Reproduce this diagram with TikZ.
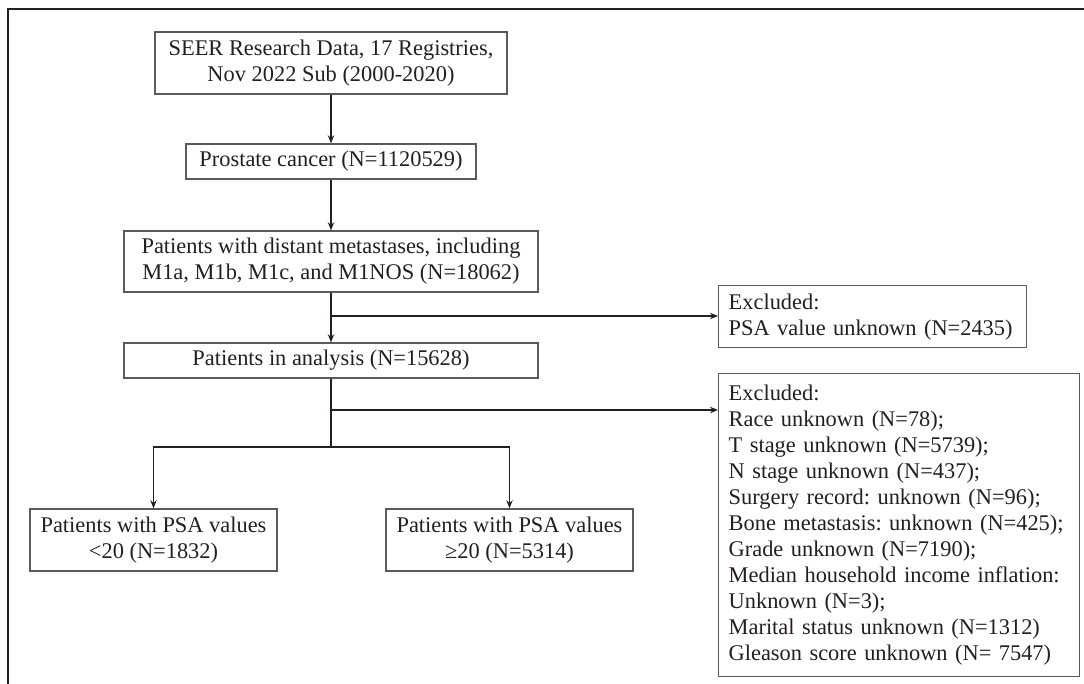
\documentclass[tikz,border=0pt]{standalone}
\usepackage{fontspec}
\setmainfont{Liberation Serif}
\usepackage{tikz}
\usetikzlibrary{arrows.meta,positioning}

\definecolor{ink}{HTML}{231F20}
\definecolor{edge}{HTML}{5A5A5A}
\frenchspacing

\begin{document}
\begin{tikzpicture}[x=0.5pt, y=-0.5pt, >={Stealth[length=4pt,width=3.2pt]},
	font=\fontsize{11.2}{13}\selectfont, text=ink,
	box/.style={draw=edge, line width=0.7pt, align=center, inner sep=0pt, minimum height=31pt},
	exclbox/.style={draw=edge, line width=0.7pt, align=left, inner xsep=5pt, inner ysep=0pt, anchor=north west},
	line/.style={draw=ink, line width=0.6pt}]
	\useasboundingbox (0,0) rectangle (1084,684);
	% Frame
	\draw [ink, line width=1pt] (8,684) -- (8,9) -- (1084,9);
	
	% Nodes {seer, pca, meta, anal, etc}
	\node [box, minimum width=176pt]  (seer) at (331,63)    {SEER Research Data, 17 Registries,\\Nov 2022 Sub (2000-2020)};
	\node [box, minimum width=145pt, minimum height=17.5pt] (pca) at (331,161.5) {Prostate cancer (N=1120529)};
	\node [box, minimum width=207pt, minimum height=30.5pt] (meta) at (331,261.5) {Patients with distant metastases, including\\M1a, M1b, M1c, and M1NOS (N=18062)};
	\node [box, minimum width=207pt, minimum height=17.5pt] (anal) at (331,360.5) {Patients in analysis (N=15628)};
	\node [exclbox, text width=144pt, minimum height=31pt] (excl1) at (718,285) {Excluded:\\PSA value unknown (N=2435)};
	\node [exclbox, text width=170.5pt, minimum height=151.5pt] (excl2) at (718,373) {Excluded:\\Race unknown (N=78);\\T stage unknown (N=5739);\\N stage unknown (N=437);\\Surgery record: unknown (N=96);\\Bone metastasis: unknown (N=425);\\Grade unknown (N=7190);\\Median household income inflation:\\Unknown (N=3);\\Marital status unknown (N=1312)\\Gleason score unknown (N= 7547)};
	\node [box, minimum width=123.5pt] (low)  at (153.5,540) {Patients with PSA values\\<20 (N=1832)};
	\node [box, minimum width=123.5pt] (high) at (509.5,540) {Patients with PSA values\\≥20 (N=5314)};
	
	% Branch points
	\coordinate (b1) at (331,316);
	\coordinate (b2) at (331,410);
	\coordinate (b3) at (331,447);
	
	% Paths
	\path [line, ->] (seer) -- (pca);
	\path [line, ->] (pca) -- (meta);
	\path [line, ->] (meta) -- (anal);
	\path [line, ->] (b1) -- (b1 -| excl1.west);
	\path [line] (anal) -- (b3);
	\path [line, ->] (b2) -- (b2 -| excl2.west);
	\path [line, ->] (b3) -| (low);
	\path [line, ->] (b3) -| (high);
	
\end{tikzpicture}
\end{document}
